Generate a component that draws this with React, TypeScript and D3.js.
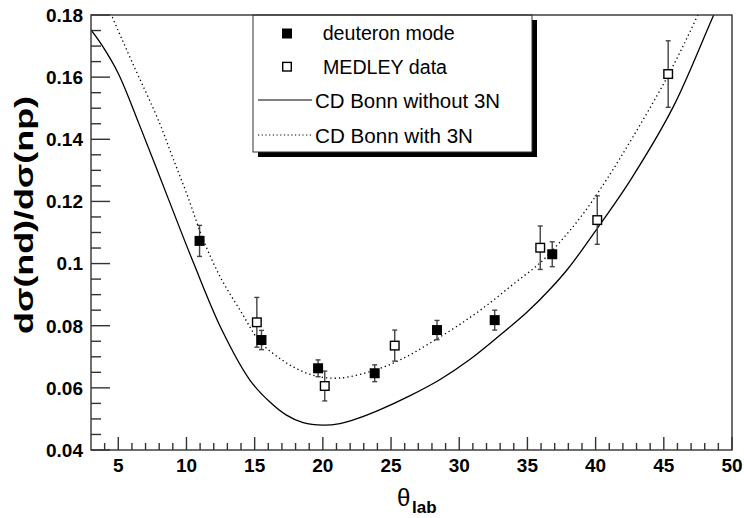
import React from "react";
import * as d3 from "d3";

const deuteronX = [10.96, 15.5, 19.65, 23.8, 28.37, 32.6, 36.82];
const deuteronY = [0.1073, 0.0754, 0.0663, 0.0647, 0.0786, 0.0818, 0.103];
const deuteronErr = [0.005, 0.0031, 0.0027, 0.0027, 0.0031, 0.0032, 0.004];

const medleyX = [15.16, 20.14, 25.27, 35.94, 40.12, 45.32];
const medleyY = [0.0811, 0.0606, 0.0736, 0.1051, 0.114, 0.161];
const medleyErr = [0.008, 0.0048, 0.005, 0.007, 0.0078, 0.0107];

const noThreeNX = [3, 3.8, 5, 6.5, 8.7, 10.5, 12.6, 14.65, 16.1, 17.3, 18.55, 20, 21.25, 22.45, 24.2, 26.4, 28.6, 30.8, 33, 35, 36.6, 38, 40.1, 42.6, 45.7, 48.66, 50];
const noThreeNY = [0.1752, 0.1703, 0.1612, 0.1452, 0.1205, 0.1004, 0.0786, 0.0625, 0.0555, 0.0513, 0.0488, 0.048, 0.0485, 0.05, 0.053, 0.0575, 0.0627, 0.0692, 0.077, 0.0845, 0.0915, 0.0985, 0.1112, 0.1272, 0.1505, 0.18, 0.193];

const withThreeNX = [3, 4.5, 6, 8, 9, 10.1, 11.2, 12.5, 14, 15.4, 17, 18.3, 19.5, 20.7, 22, 24.4, 26.2, 28, 30, 32, 34, 36, 37.4, 39, 40.8, 42.7, 45.2, 47.5, 50];
const withThreeNY = [0.196, 0.18, 0.165, 0.1455, 0.134, 0.1215, 0.108, 0.0955, 0.0845, 0.0748, 0.069, 0.0657, 0.0638, 0.0631, 0.0636, 0.0666, 0.0702, 0.0748, 0.0803, 0.0865, 0.0935, 0.1005, 0.107, 0.1155, 0.127, 0.1405, 0.1596, 0.18, 0.205];

const xTicks = [5, 10, 15, 20, 25, 30, 35, 40, 45, 50];
const yTicks = [0.04, 0.06, 0.08, 0.1, 0.12, 0.14, 0.16, 0.18];
const yTickLabels = ["0.04", "0.06", "0.08", "0.1", "0.12", "0.14", "0.16", "0.18"];

const legendLabels = ["deuteron mode", "MEDLEY data", "CD Bonn without 3N", "CD Bonn with 3N"];

const W = 744, H = 518;
const L = 91, R = 732, T = 15, B = 450;

export default function App() {
  const x = d3.scaleLinear().domain([3, 50]).range([L, R]);
  const y = d3.scaleLinear().domain([0.04, 0.18]).range([B, T]);
  const line = d3.line<[number, number]>().x(d => x(d[0])).y(d => y(d[1])).curve(d3.curveCatmullRom.alpha(0.5));
  const solidPath = line(noThreeNX.map((v, i) => [v, noThreeNY[i]] as [number, number])) || "";
  const dotPath = line(withThreeNX.map((v, i) => [v, withThreeNY[i]] as [number, number])) || "";

  const xMinor = d3.range(4, 50, 1).filter(v => v % 5 !== 0);
  const yMinor = d3.range(0.045, 0.18, 0.005).filter(v => Math.abs((v * 100) % 2) > 0.01 && Math.abs((v * 100) % 2 - 2) > 0.01);

  const font = "'Liberation Sans', Arial, Helvetica, sans-serif";
  const axisColor = "#333";
  const half = 5;

  const errBar = (xv: number, yv: number, e: number, key: string) => (
    <g key={key} stroke="#444" strokeWidth={1.4}>
      <line x1={x(xv)} x2={x(xv)} y1={y(yv + e)} y2={y(yv - e)} />
      <line x1={x(xv) - 2.5} x2={x(xv) + 2.5} y1={y(yv + e)} y2={y(yv + e)} />
      <line x1={x(xv) - 2.5} x2={x(xv) + 2.5} y1={y(yv - e)} y2={y(yv - e)} />
    </g>
  );

  return (
    <svg width={W} height={H} style={{ position: "absolute", left: 0, top: 0, background: "#fff" }} fontFamily={font}>
      <defs>
        <clipPath id="plotClip">
          <rect x={L} y={T} width={R - L} height={B - T} />
        </clipPath>
      </defs>
      <rect x={0} y={0} width={W} height={H} fill="#fff" />
      {/* curves */}
      <g clipPath="url(#plotClip)" fill="none">
        <path d={solidPath} stroke="#000" strokeWidth={1.3} />
        <path d={dotPath} stroke="#000" strokeWidth={1.3} strokeDasharray="1.3 3" />
      </g>
      {/* legend */}
      <rect x={258} y={20} width={279} height={137} fill="#000" />
      <rect x={253} y={15} width={279} height={137} fill="#fff" stroke={axisColor} strokeWidth={1} />
      <rect x={287 - half} y={33.5 - half} width={2 * half} height={2 * half} fill="#000" />
      <rect x={287 - half + 0.7} y={66.7 - half + 0.7} width={2 * half - 1.4} height={2 * half - 1.4} fill="#fff" stroke="#000" strokeWidth={1.4} />
      <line x1={258} x2={312} y1={100} y2={100} stroke="#000" strokeWidth={1.2} />
      <line x1={258} x2={312} y1={135} y2={135} stroke="#000" strokeWidth={1.2} strokeDasharray="1.2 2.5" />
      <text x={322.7} y={39.5} fontSize={20} textLength={132} lengthAdjust="spacingAndGlyphs">{legendLabels[0]}</text>
      <text x={323} y={74} fontSize={20} textLength={124} lengthAdjust="spacingAndGlyphs">{legendLabels[1]}</text>
      <text x={315} y={108.3} fontSize={20} textLength={185} lengthAdjust="spacingAndGlyphs">{legendLabels[2]}</text>
      <text x={315} y={142.7} fontSize={20} textLength={158} lengthAdjust="spacingAndGlyphs">{legendLabels[3]}</text>
      {/* error bars & markers */}
      {medleyX.map((v, i) => errBar(v, medleyY[i], medleyErr[i], "me" + i))}
      {deuteronX.map((v, i) => errBar(v, deuteronY[i], deuteronErr[i], "de" + i))}
      {medleyX.map((v, i) => (
        <rect key={"mm" + i} x={x(v) - half + 0.7} y={y(medleyY[i]) - half + 0.7} width={2 * half - 1.4} height={2 * half - 1.4} fill="#fff" stroke="#000" strokeWidth={1.4} />
      ))}
      {deuteronX.map((v, i) => (
        <rect key={"dm" + i} x={x(v) - half} y={y(deuteronY[i]) - half} width={2 * half} height={2 * half} fill="#000" />
      ))}
      {/* frame */}
      <rect x={L} y={T} width={R - L} height={B - T} fill="none" stroke={axisColor} strokeWidth={1.4} />
      {/* ticks */}
      <g stroke={axisColor} strokeWidth={1.4}>
        {xTicks.map(t => <line key={"xt" + t} x1={x(t)} x2={x(t)} y1={B} y2={B - 13} />)}
        {xMinor.map(t => <line key={"xm" + t} x1={x(t)} x2={x(t)} y1={B} y2={B - 7} />)}
        {yTicks.map(t => <line key={"yt" + t} x1={L} x2={L + 19} y1={y(t)} y2={y(t)} />)}
        {yMinor.map(t => <line key={"ym" + t} x1={L} x2={L + 10} y1={y(t)} y2={y(t)} />)}
      </g>
      {xTicks.map(t => (
        <text key={"xl" + t} x={x(t)} y={472} fontSize={19} fontWeight="bold" textAnchor="middle">{t}</text>
      ))}
      {yTicks.map((t, i) => (
        <text key={"yl" + t} x={83} y={y(t) + 6.8} fontSize={19} fontWeight="bold" textAnchor="end">{yTickLabels[i]}</text>
      ))}
      {/* axis titles */}
      <text transform="translate(33,215) rotate(-90)" fontSize={25} fontWeight="bold" textAnchor="middle" textLength={238} lengthAdjust="spacingAndGlyphs">dσ(nd)/dσ(np)</text>
      <text x={397} y={506} fontSize={24}>θ</text>
      <text x={412} y={513} fontSize={17} fontWeight="bold">lab</text>
    </svg>
  );
}
